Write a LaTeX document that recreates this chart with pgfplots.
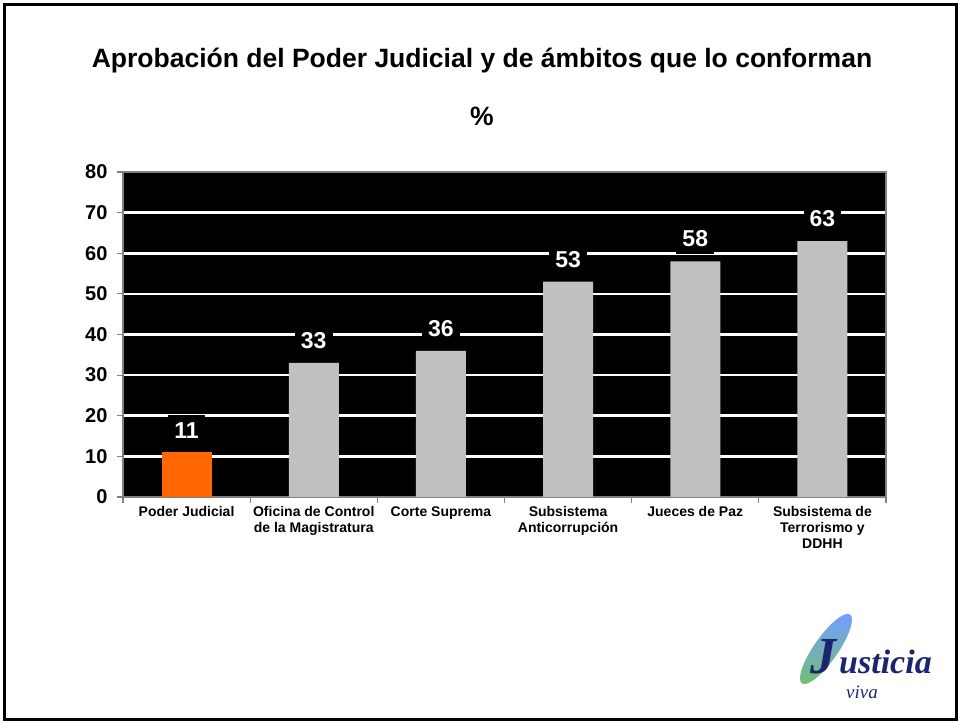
\documentclass[border=0pt]{standalone}
\usepackage{pgfplots}
\pgfplotsset{compat=1.18}
\usepackage{fontspec}
\setmainfont{Liberation Sans}
\newfontfamily\logofont{Liberation Serif}
\definecolor{barorange}{RGB}{255,102,0}
\definecolor{bargrey}{RGB}{192,192,192}
\definecolor{logonavy}{RGB}{28,38,110}
\begin{document}
\begin{tikzpicture}
\path[use as bounding box] (0,0) rectangle (960bp,721bp);
\draw[line width=3bp] (4.5bp,1.5bp) rectangle (956.5bp,716.5bp);
\node[anchor=base, font=\bfseries\fontsize{26.5bp}{30bp}\selectfont] at (482bp,653bp) {Aprobación del Poder Judicial y de ámbitos que lo conforman};
\node[anchor=base, font=\bfseries\fontsize{26.5bp}{30bp}\selectfont] at (482bp,595bp) {\%};
\begin{axis}[
  at={(123bp,224bp)}, anchor=south west,
  width=763bp, height=325bp, scale only axis,
  axis background/.style={fill=black},
  /pgf/number format/assume math mode=true,
  xmin=-0.5, xmax=5.5, ymin=0, ymax=80,
  ytick={0,10,...,80},
  xtick={-0.5,0.5,1.5,2.5,3.5,4.5,5.5},
  xticklabels={Poder Judicial, Oficina de Control\\de la Magistratura, Corte Suprema, Subsistema\\Anticorrupción, Jueces de Paz, Subsistema de\\Terrorismo y\\DDHH, {}},
  x tick label style={xshift=63.58bp, align=center, anchor=north, font=\bfseries\fontsize{14bp}{16bp}\selectfont},
  y tick label style={xshift=-6bp, font=\bfseries\fontsize{20bp}{24bp}\selectfont},
  tick align=outside, tick pos=left, major tick length=6bp,
  tick style={gray, line width=1.2bp},
  axis line style={gray, line width=1.2bp},
  ymajorgrids, grid style={white, line width=2.5bp},
  ybar, bar width=50bp, bar shift=0pt,
  nodes near coords,
  every node near coord/.append style={fill=black, text=white, font=\bfseries\fontsize{23bp}{26bp}\selectfont, inner xsep=6bp, inner ysep=7bp, anchor=south, yshift=7bp},
]
\addplot[fill=barorange, draw=none] coordinates {(0,11)};
\addplot[fill=bargrey, draw=none] coordinates {(1,33) (2,36) (3,53) (4,58) (5,63)};
\end{axis}
% logo
\shade[top color=blue!70!cyan, bottom color=green!55!black, opacity=0.55, rotate around={-35:(826bp,72bp)}] (826bp,72bp) ellipse (12bp and 42bp);
\node[anchor=base west, inner sep=0, text=logonavy, font=\logofont\bfseries\itshape\fontsize{52bp}{52bp}\selectfont] at (810bp,47bp) {J};
\node[anchor=base west, inner sep=0, text=logonavy, font=\logofont\bfseries\itshape\fontsize{34bp}{34bp}\selectfont] at (839bp,47bp) {usticia};
\node[anchor=base west, inner sep=0, text=logonavy, font=\logofont\itshape\fontsize{19bp}{19bp}\selectfont] at (846bp,23bp) {viva};
\end{tikzpicture}
\end{document}
